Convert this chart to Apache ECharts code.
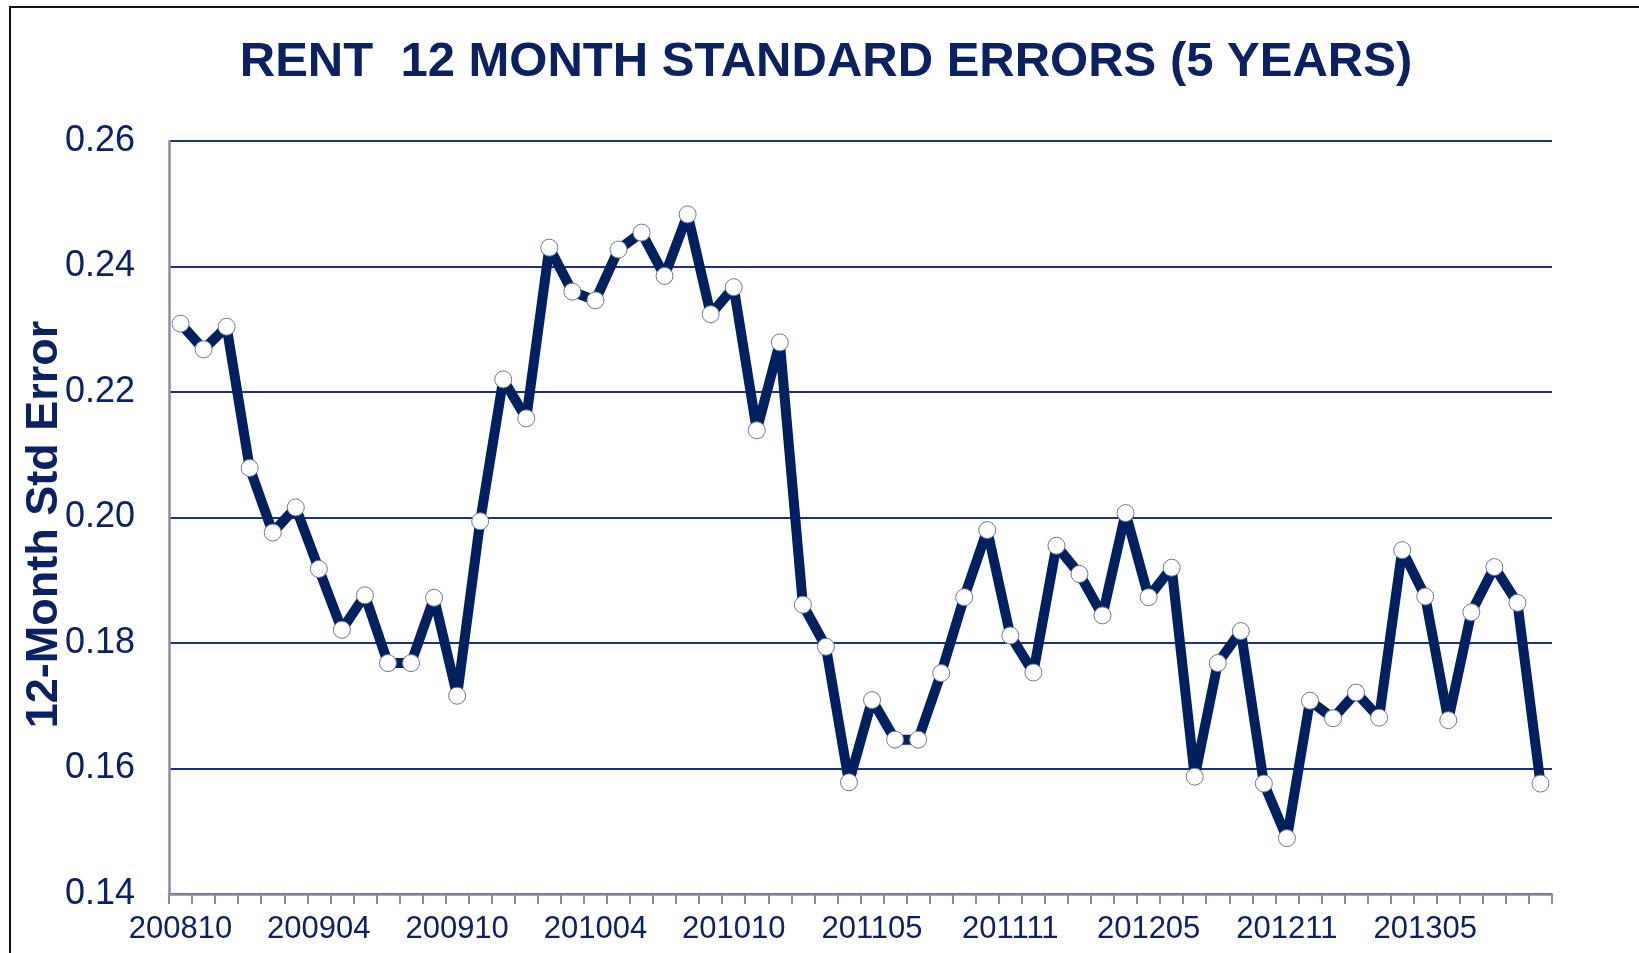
<!DOCTYPE html>
<html>
<head>
<meta charset="utf-8">
<script src="https://cdn.jsdelivr.net/npm/echarts@6/dist/echarts.min.js"></script>
<style>
  body { margin: 0; background: #fff; }
  #frame { position: absolute; left: 9px; top: 6px; width: 1700px; height: 1000px;
           border-left: 2px solid #111; border-top: 2px solid #111; }
  #container { position: absolute; left: 0; top: 0; width: 1639px; height: 953px; }
</style>
</head>
<body>
<div id="frame"></div>
<div id="container"></div>
<script type="text/javascript">
// months (one month between 201010 and 201105 is absent in the source)
var months = [
  '200810','200811','200812',
  '200901','200902','200903','200904','200905','200906','200907','200908','200909','200910','200911','200912',
  '201001','201002','201003','201004','201005','201006','201007','201008','201009','201010','201011',
  '201101','201102','201103','201104','201105','201106','201107','201108','201109','201110','201111','201112',
  '201201','201202','201203','201204','201205','201206','201207','201208','201209','201210','201211','201212',
  '201301','201302','201303','201304','201305','201306','201307','201308','201309','201310'
];

var stdError = [
  0.2309, 0.2268, 0.2304, 0.2079, 0.1976, 0.2016, 0.1918, 0.1821, 0.1876, 0.1768,
  0.1768, 0.1872, 0.1716, 0.1994, 0.2220, 0.2158, 0.2430, 0.2360, 0.2346, 0.2427,
  0.2454, 0.2385, 0.2483, 0.2324, 0.2367, 0.2139, 0.2279, 0.1861, 0.1794, 0.1578,
  0.1709, 0.1646, 0.1646, 0.1752, 0.1873, 0.1980, 0.1812, 0.1753, 0.1955, 0.1910,
  0.1844, 0.2007, 0.1873, 0.1920, 0.1587, 0.1768, 0.1819, 0.1576, 0.1489, 0.1708,
  0.1680, 0.1721, 0.1681, 0.1948, 0.1874, 0.1677, 0.1849, 0.1921, 0.1864, 0.1576
];

var navy = '#0b2162';
var myChart = echarts.init(document.getElementById('container'));

var option = {
    animation: false,
    title: {
        text: 'RENT  12 MONTH STANDARD ERRORS (5 YEARS)',
        left: 821,
        textAlign: 'center',
        top: 33,
        textStyle: {
            fontFamily: 'Liberation Sans',
            fontWeight: 'bold',
            fontSize: 49,
            color: navy
        }
    },
    grid: {
        left: 169,
        right: 87,
        top: 141,
        bottom: 59,
        containLabel: false
    },
    xAxis: {
        type: 'category',
        data: months,
        boundaryGap: true,
        axisLine: { lineStyle: { color: '#878ca0', width: 2.5 } },
        axisTick: { show: true, interval: 0, length: 10, lineStyle: { color: '#878ca0', width: 2 } },
        axisLabel: {
            interval: 5,
            margin: 20,
            fontFamily: 'Liberation Sans',
            fontSize: 31,
            color: navy
        },
        splitLine: { show: false }
    },
    yAxis: {
        type: 'value',
        min: 0.14,
        max: 0.26,
        interval: 0.02,
        name: '12-Month Std Error',
        nameLocation: 'middle',
        nameGap: 102,
        nameMoveOverlap: false,
        nameTextStyle: {
            fontFamily: 'Liberation Sans',
            fontWeight: 'bold',
            fontSize: 45,
            color: navy,
            padding: [0, 14, 0, 0]
        },
        axisLine: { show: true, lineStyle: { color: '#878ca0', width: 2.5 } },
        axisTick: { show: false },
        axisLabel: {
            margin: 34,
            fontFamily: 'Liberation Sans',
            fontSize: 36,
            color: navy,
            formatter: function (v) { return v.toFixed(2); }
        },
        splitLine: { lineStyle: { color: '#1d3575', width: 2 } }
    },
    series: [{
        name: '12-Month Std Error',
        type: 'line',
        data: stdError,
        symbol: 'circle',
        symbolSize: 17,
        showSymbol: true,
        showAllSymbol: true,
        lineStyle: { color: '#002060', width: 10 },
        itemStyle: { color: '#ffffff', borderColor: '#6d7796', borderWidth: 1 }
    }]
};

myChart.setOption(option);
</script>
</body>
</html>
